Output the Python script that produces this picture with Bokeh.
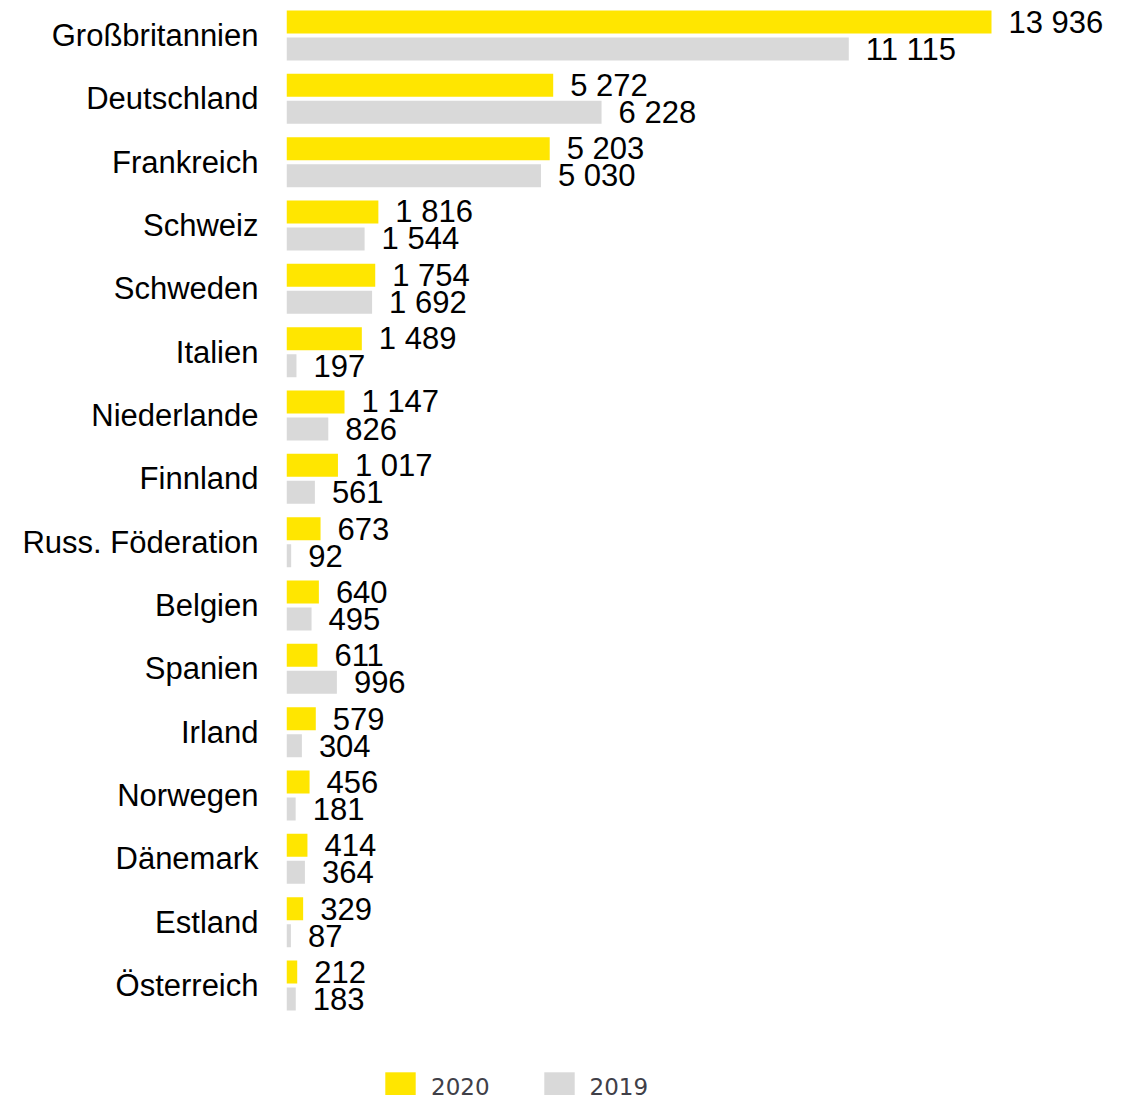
from bokeh.plotting import figure
from bokeh.models import Range1d, FixedTicker, ColumnDataSource
from bokeh.core.properties import value
from bokeh.embed import file_html
from bokeh.resources import INLINE

countries = ["Großbritannien", "Deutschland", "Frankreich", "Schweiz", "Schweden",
             "Italien", "Niederlande", "Finnland", "Russ. Föderation", "Belgien",
             "Spanien", "Irland", "Norwegen", "Dänemark", "Estland", "Österreich"]
v2020 = [13936, 5272, 5203, 1816, 1754, 1489, 1147, 1017, 673, 640, 611, 579, 456, 414, 329, 212]
v2019 = [11115, 6228, 5030, 1544, 1692, 197, 826, 561, 92, 495, 996, 304, 181, 364, 87, 183]
series = ["2020", "2019"]
colors = ["#FFE600", "#D9D9D9"]

def fmt(v):
    return f"{v:,}".replace(",", " ")

W, H = 1126, 1095
left = 286
scale = 705 / 13936.0
pitch = 63.333
first = 35.0

p = figure(width=W, height=H, output_backend="svg", toolbar_location=None,
           x_range=Range1d(0, (W - left) / scale),
           y_range=Range1d((H - first) / pitch, -first / pitch),
           min_border_left=left, min_border_right=0, min_border_top=0, min_border_bottom=0)

idx = list(range(len(countries)))
off = 13.5 / pitch
bh = 23 / pitch

for vals, name, col, sgn in [(v2020, series[0], colors[0], -1), (v2019, series[1], colors[1], 1)]:
    src = ColumnDataSource(dict(y=[i + sgn * off for i in idx], v=vals, lab=[fmt(v) for v in vals]))
    p.hbar(y="y", right="v", left=0, height=bh, source=src, fill_color=col, line_color=None,
           legend_label=name)
    p.text(x="v", y="y", text="lab", source=src, x_offset=17, text_baseline="middle",
           text_font=value("Liberation Sans"), text_font_size="31px", text_color="#000000")

p.xaxis.visible = False
yax = p.yaxis[0]
yax.ticker = FixedTicker(ticks=idx)
yax.major_label_overrides = {i: c for i, c in enumerate(countries)}
yax.axis_line_color = None
yax.major_tick_line_color = None
yax.minor_tick_line_color = None
yax.major_label_standoff = 22
yax.major_label_text_font = "Liberation Sans"
yax.major_label_text_font_size = "31px"
yax.major_label_text_color = "#000000"
p.xgrid.visible = False
p.ygrid.visible = False
p.outline_line_color = None

lg = p.legend[0]
lg.orientation = "horizontal"
lg.location = (95, -11)
lg.padding = 0
lg.margin = 0
lg.spacing = 50
lg.label_standoff = 12
lg.glyph_width = 38
lg.glyph_height = 38
lg.label_text_font = "DejaVu Sans"
lg.label_text_font_size = "23px"
lg.label_text_color = "#404048"
lg.border_line_color = None
lg.background_fill_alpha = 0

open("out.html", "w").write(file_html(p, INLINE))
